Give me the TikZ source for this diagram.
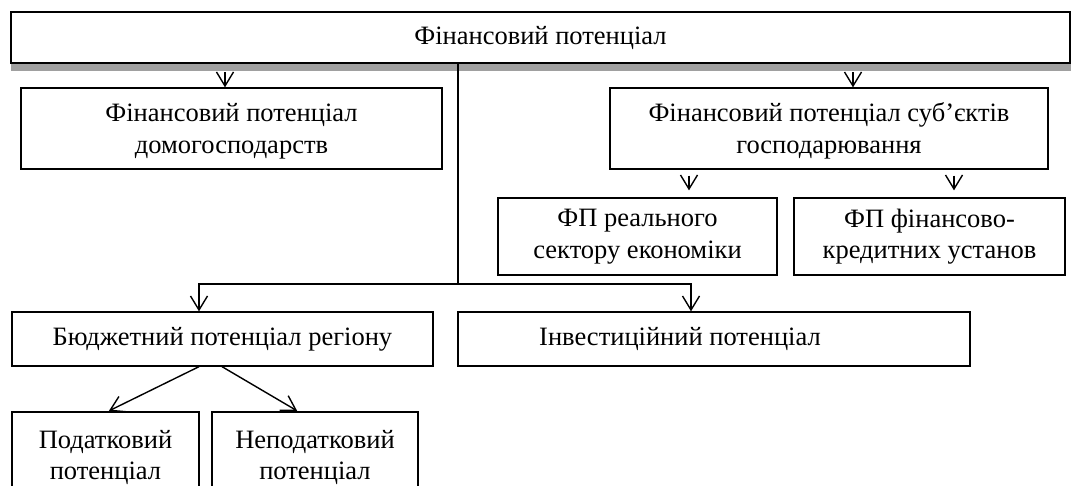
\documentclass[tikz,border=0pt]{standalone}
\usepackage{fontspec}
\setmainfont{Liberation Serif}
\usetikzlibrary{arrows.meta,calc}
\definecolor{shadowgray}{HTML}{A0A0A0}
\newcommand{\topstrut}{\rule{0pt}{24pt}}
\begin{document}
\begin{tikzpicture}[x=1pt,y=-1pt,
  box/.style={draw,line width=1.3pt,rectangle,inner sep=0pt,align=center,
    font=\fontsize{26.5}{31.5}\selectfont},
  arr/.style={line width=1.4pt,-{Straight Barb[length=14pt,width=17pt]}},
  ln/.style={line width=1.4pt}]
\useasboundingbox (0,0) rectangle (1071,486);
\clip (0,0) rectangle (1071,486);
\fill[white] (0,0) rectangle (1071,486);
% shadow of the top box
\fill[shadowgray] (11,63) rectangle (1071,71.5);
% nodes
\node[box,minimum width=1059pt,minimum height=51pt] (top) at (540.5,37.5) {\raisebox{-2pt}{Фінансовий потенціал}};
\node[box,minimum width=421pt,minimum height=81pt] (hh) at (231.5,128.5) {\topstrut Фінансовий потенціал\\домогосподарств};
\node[box,minimum width=438pt,minimum height=81pt] (se) at (829,128.5) {\topstrut Фінансовий потенціал суб’єктів\\господарювання};
\node[box,minimum width=279pt,minimum height=77pt] (fp1) at (637.5,236.5) {ФП реального\\сектору економіки};
\node[box,minimum width=271pt,minimum height=77pt] (fp2) at (929.5,236.5) {ФП фінансово-\\кредитних установ};
\node[box,minimum width=421pt,minimum height=54pt] (bud) at (222.5,339) {Бюджетний потенціал регіону};
\node[box,minimum width=512pt,minimum height=54pt] (inv) at (714,339) {\kern-68pt Інвестиційний потенціал};
\node[box,minimum width=187pt,minimum height=82pt] (tax) at (105.5,453) {\rule{0pt}{27pt}Податковий\\потенціал};
\node[box,minimum width=206pt,minimum height=82pt] (ntax) at (315,453) {\rule{0pt}{27pt}Неподатковий\\потенціал};
% connectors
\draw[arr,shorten <=8.5pt] ([xshift=-6.5pt]hh.north |- top.south) -- ([xshift=-6.5pt]hh.north);
\draw[arr,shorten <=8.5pt] ([xshift=24pt]se.north |- top.south) -- ([xshift=24pt]se.north);
\draw[arr,shorten <=6pt,shorten >=7pt] ([xshift=51.5pt]fp1.north |- se.south) -- ([xshift=51.5pt]fp1.north);
\draw[arr,shorten <=6pt,shorten >=7pt] ([xshift=24.5pt]fp2.north |- se.south) -- ([xshift=24.5pt]fp2.north);
\coordinate (j) at (458,284);
\draw[ln] (j |- top.south) -- (j);
\draw[arr] (j) -| ([xshift=-23.5pt]bud.north);
\draw[arr] (j) -| ([xshift=-23pt]inv.north);
\draw[arr,shorten >=1pt] ([xshift=-23.5pt]bud.south) -- ([xshift=2.5pt]tax.north);
\draw[arr,shorten >=1pt] ([xshift=-0.5pt]bud.south) -- ([xshift=-17pt]ntax.north);
\end{tikzpicture}
\end{document}
